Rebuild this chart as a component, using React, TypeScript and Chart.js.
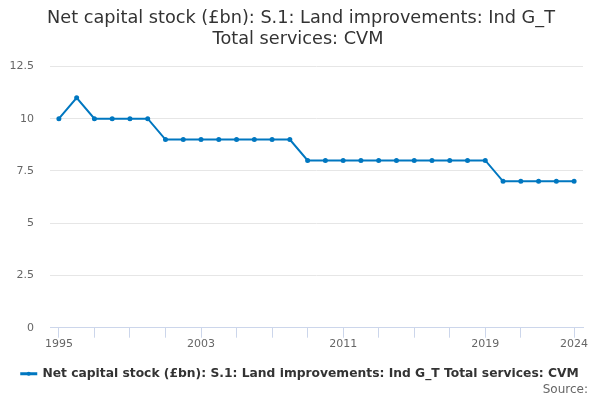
import React, { useEffect, useRef } from "react";
import { Chart, registerables } from "chart.js";

Chart.register(...registerables);

const years = [
  "1995","1996","1997","1998","1999","2000","2001","2002","2003","2004",
  "2005","2006","2007","2008","2009","2010","2011","2012","2013","2014",
  "2015","2016","2017","2018","2019","2020","2021","2022","2023","2024",
];
const values = [
  10, 11, 10, 10, 10, 10, 9, 9, 9, 9,
  9, 9, 9, 9, 8, 8, 8, 8, 8, 8,
  8, 8, 8, 8, 8, 7, 7, 7, 7, 7,
];
const labelledYears = ["1995", "2003", "2011", "2019", "2024"];
const titleLines = ["Net capital stock (£bn): S.1: Land improvements: Ind G_T", "Total services: CVM"];
const seriesName = "Net capital stock (£bn): S.1: Land improvements: Ind G_T Total services: CVM";
const FONT = "'DejaVu Sans', sans-serif";
const LINE = "#0077c0";

export default function App() {
  const ref = useRef<HTMLCanvasElement>(null);
  useEffect(() => {
    document.body.style.margin = "0";
    const extrasPlugin = {
      id: "extras",
      afterDraw(chart: any) {
        const ctx = chart.ctx;
        ctx.save();
        ctx.font = `17.7px ${FONT}`;
        ctx.fillStyle = "#333333";
        ctx.textAlign = "center";
        ctx.textBaseline = "middle";
        ctx.fillText(titleLines[0], 301, 18);
        ctx.fillText(titleLines[1], 298, 39);
        ctx.font = `12px ${FONT}`;
        ctx.fillStyle = "#666666";
        ctx.textAlign = "right";
        ctx.fillText("Source:", 588, 390);
        const hb = chart.legend?.legendHitBoxes?.[0];
        if (hb) {
          ctx.fillStyle = LINE;
          ctx.beginPath();
          ctx.arc(hb.left + 7.5, hb.top + hb.height / 2, 2, 0, Math.PI * 2);
          ctx.fill();
        }
        ctx.restore();
      },
    };
    const chart = new Chart(ref.current!, {
      type: "line",
      data: {
        labels: years,
        datasets: [
          {
            label: seriesName,
            data: values,
            borderColor: LINE,
            backgroundColor: LINE,
            borderWidth: 2,
            pointRadius: 1.5,
            pointHoverRadius: 1.5,
            tension: 0,
          },
        ],
      },
      options: {
        animation: false,
        responsive: false,
        maintainAspectRatio: false,
        layout: { padding: { left: 0, right: 0, top: 7, bottom: 10 } },
        plugins: {
          tooltip: { enabled: false },
          title: {
            display: true,
            text: titleLines,
            color: "rgba(0,0,0,0)",
            font: { family: FONT, size: 15.4, weight: "normal", lineHeight: 1.36 },
            padding: { top: 0, bottom: 17.5 },
          },
          legend: {
            position: "bottom",
            labels: {
              color: "#333333",
              font: { family: FONT, size: 12.3, weight: "bold" },
              boxWidth: 15,
              boxHeight: 1,
              padding: 8,
            },
          },
        },
        scales: {
          x: {
            type: "category",
            offset: true,
            afterFit(scale: any) {
              scale.height = 32;
            },
            border: { color: "#ccd6eb", width: 1 },
            grid: {
              offset: false,
              drawOnChartArea: false,
              drawTicks: true,
              tickLength: 10,
              color: (c: any) =>
                (c.index % 2 === 0 && c.index < 28) || c.index === years.length - 1
                  ? "#ccd6eb"
                  : "rgba(0,0,0,0)",
            },
            ticks: {
              autoSkip: false,
              maxRotation: 0,
              padding: 0,
              color: "#666666",
              font: { family: FONT, size: 11 },
              callback: (_v: any, i: number) =>
                labelledYears.includes(years[i]) ? years[i] : "",
            },
          },
          y: {
            min: 0,
            max: 12.5,
            afterFit(scale: any) {
              scale.width = 50;
            },
            border: { display: false },
            grid: { color: "#e6e6e6", drawTicks: false },
            ticks: {
              stepSize: 2.5,
              padding: 16,
              color: "#666666",
              font: { family: FONT, size: 11 },
              callback: (v: any) => String(v),
            },
          },
          yRight: {
            position: "right",
            min: 0,
            max: 12.5,
            afterFit(scale: any) {
              scale.width = 17;
            },
            border: { display: false },
            grid: { display: false, drawTicks: false },
            ticks: { display: false },
          },
        },
      },
      plugins: [extrasPlugin],
    });
    return () => chart.destroy();
  }, []);
  return (
    <div style={{ width: 600, height: 400 }}>
      <canvas ref={ref} width={600} height={400} style={{ width: 600, height: 400 }} />
    </div>
  );
}
